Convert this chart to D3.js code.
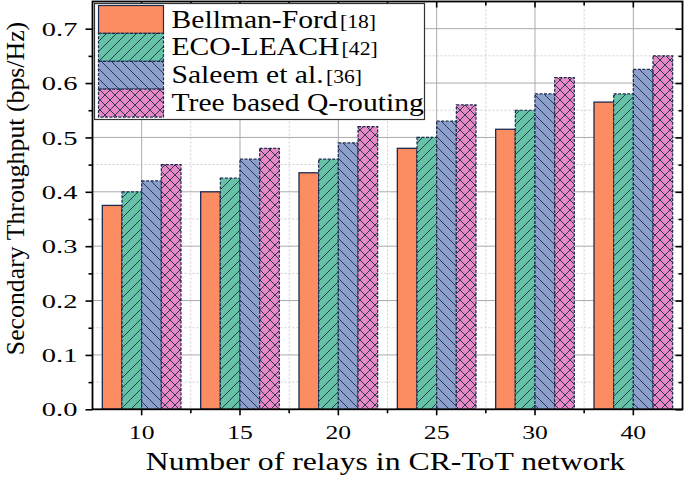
<!DOCTYPE html>
<html><head><meta charset="utf-8">
<script src="https://cdn.jsdelivr.net/npm/d3@7/dist/d3.min.js"></script>
<style>
html,body{margin:0;padding:0;background:#fff;}
svg{display:block;font-family:"Liberation Serif","Times New Roman",serif;}
svg text{font-family:"Liberation Serif","Times New Roman",serif !important;}
</style></head>
<body><svg id="chart" width="685" height="478"></svg>
<script>
const categories = ["10","15","20","25","30","40"];
const seriesNames = ["Bellman-Ford","ECO-LEACH","Saleem et al.","Tree based Q-routing"];
const seriesRefs = ["[18]","[42]","[36]",""];
const bellmanFord = [0.375,0.40,0.435,0.48,0.515,0.565];
const ecoLeach    = [0.40,0.425,0.46,0.50,0.55,0.58];
const saleem      = [0.42,0.46,0.49,0.53,0.58,0.625];
const treeQ       = [0.45,0.48,0.52,0.56,0.61,0.65];
const seriesValues = [bellmanFord, ecoLeach, saleem, treeQ];
const yTicks = [0.0,0.1,0.2,0.3,0.4,0.5,0.6,0.7];
const colors = ["#FC8D62","#66C2A5","#8DA0CB","#E78AC3"];
const edge = "#1c2b4f";

const svg = d3.select("#chart");
const L = 92.5, R = 682.5, T = 1.5, B = 409.3;

const x = d3.scaleBand().domain(categories).range([L, R]).padding(0);
const bw = x.bandwidth();
const xs = d3.scaleBand().domain(d3.range(4)).range([0.1*bw, 0.9*bw]).padding(0);
const y = d3.scaleLinear().domain([0, 0.75]).range([B, T]);

// patterns
const defs = svg.append("defs");
function hatch(id, color, kind, s){
  const p = defs.append("pattern").attr("id", id).attr("patternUnits","userSpaceOnUse")
    .attr("width", s).attr("height", s);
  p.append("rect").attr("width", s).attr("height", s).attr("fill", color);
  const lines = [];
  if (kind === "fwd" || kind === "cross") lines.push([0,s,s,0],[-1,1,1,-1],[s-1,s+1,s+1,s-1]);
  if (kind === "back" || kind === "cross") lines.push([0,0,s,s],[-1,s-1,1,s+1],[s-1,-1,s+1,1]);
  lines.forEach(l => p.append("line").attr("x1",l[0]).attr("y1",l[1]).attr("x2",l[2]).attr("y2",l[3])
    .attr("stroke", edge).attr("stroke-width", 0.9));
}
hatch("pG", colors[1], "fwd", 10);
hatch("pB", colors[2], "back", 10);
hatch("pP", colors[3], "cross", 10);
const fills = [colors[0], "url(#pG)", "url(#pB)", "url(#pP)"];

// minor grid
const yMinor = d3.range(0.05, 0.75, 0.1);
svg.append("g").selectAll("line").data(yMinor).join("line")
  .attr("x1", L).attr("x2", R).attr("y1", d => y(d)).attr("y2", d => y(d))
  .attr("stroke", "#cfcfcf").attr("stroke-width", 1).attr("stroke-dasharray", "2,2");
const bounds = categories.slice(1).map(c => x(c));
svg.append("g").selectAll("line").data(bounds).join("line")
  .attr("x1", d => d).attr("x2", d => d).attr("y1", T).attr("y2", B)
  .attr("stroke", "#cfcfcf").attr("stroke-width", 1).attr("stroke-dasharray", "2,2");
// major grid
svg.append("g").selectAll("line").data(yTicks.slice(1)).join("line")
  .attr("x1", L).attr("x2", R).attr("y1", d => y(d)).attr("y2", d => y(d))
  .attr("stroke", "#ababab").attr("stroke-width", 1);
svg.append("g").selectAll("line").data(categories).join("line")
  .attr("x1", d => x(d) + bw/2).attr("x2", d => x(d) + bw/2).attr("y1", T).attr("y2", B)
  .attr("stroke", "#ababab").attr("stroke-width", 1);

// bars
seriesValues.forEach((vals, si) => {
  svg.append("g").selectAll("rect").data(vals).join("rect")
    .attr("x", (d, i) => x(categories[i]) + xs(si))
    .attr("width", xs.bandwidth())
    .attr("y", d => y(d))
    .attr("height", d => B - y(d))
    .attr("fill", fills[si])
    .attr("stroke", edge).attr("stroke-width", si === 0 ? 1.3 : 1.2)
    .attr("stroke-dasharray", si === 0 ? null : "3,1.5");
});

// axes
const lw = 1.6;
const gy = svg.append("g").attr("transform", `translate(${L},0)`)
  .call(d3.axisLeft(y).tickValues(yTicks).tickFormat(d3.format(".1f")).tickSize(7));
gy.attr("font-family", null);
gy.selectAll("text").attr("font-size", 19).attr("fill", "#000")
  .attr("x", 0).attr("dy", "0.35em")
  .attr("transform", "translate(-15,0) scale(1.5,1)");
const gym = svg.append("g").attr("transform", `translate(${L},0)`)
  .call(d3.axisLeft(y).tickValues(yMinor).tickFormat("").tickSize(4));
const gr = svg.append("g").attr("transform", `translate(${R},0)`)
  .call(d3.axisRight(y).tickValues(yTicks).tickFormat("").tickSize(-7));
const grm = svg.append("g").attr("transform", `translate(${R},0)`)
  .call(d3.axisRight(y).tickValues(yMinor).tickFormat("").tickSize(-4));

const gx = svg.append("g").attr("transform", `translate(0,${B})`)
  .call(d3.axisBottom(x).tickSize(6));
gx.attr("font-family", null);
gx.selectAll("text").attr("font-size", 19).attr("fill", "#000")
  .attr("y", 0).attr("dy", 0)
  .attr("transform", "translate(0,29.5) scale(1.35,1)");
const gxm = svg.append("g").attr("transform", `translate(0,${B})`);
gxm.selectAll("line").data(bounds).join("line")
  .attr("x1", d => d).attr("x2", d => d).attr("y1", 0).attr("y2", 4)
  .attr("stroke", "#000").attr("stroke-width", lw);
// top ticks
const gt = svg.append("g").attr("transform", `translate(0,${T})`);
gt.selectAll("line.maj").data(categories).join("line").attr("class","maj")
  .attr("x1", d => x(d) + bw/2).attr("x2", d => x(d) + bw/2).attr("y1", 0).attr("y2", 6)
  .attr("stroke", "#000").attr("stroke-width", lw);
gt.selectAll("line.min").data(bounds).join("line").attr("class","min")
  .attr("x1", d => d).attr("x2", d => d).attr("y1", 0).attr("y2", 4)
  .attr("stroke", "#000").attr("stroke-width", lw);

[gy, gym, gr, grm, gx].forEach(g => {
  g.selectAll(".domain").remove();
  g.selectAll(".tick line").attr("stroke", "#000").attr("stroke-width", lw);
});
// frame
svg.append("rect").attr("x", L).attr("y", T).attr("width", R - L).attr("height", B - T)
  .attr("fill", "none").attr("stroke", "#000").attr("stroke-width", 1.8);

// axis titles
svg.append("text").attr("transform", `translate(${(L + R) / 2 - 2},470) scale(1.27,1)`)
  .attr("text-anchor", "middle")
  .attr("font-size", 25).attr("fill", "#000").text("Number of relays in CR-ToT network");
svg.append("text").attr("transform", `translate(23.5,188.5) rotate(-90)`)
  .attr("text-anchor", "middle").attr("font-size", 25.8).attr("fill", "#000")
  .text("Secondary Throughput (bps/Hz)");

// legend
const lg = svg.append("g");
lg.append("rect").attr("x", 94.5).attr("y", 3.5).attr("width", 330).attr("height", 116)
  .attr("fill", "#fff").attr("stroke", "#333").attr("stroke-width", 1.2);
const rowH = 27.9;
seriesNames.forEach((name, i) => {
  const ry = 5.5 + i * rowH;
  lg.append("rect").attr("x", 98.5).attr("y", ry).attr("width", 65).attr("height", rowH)
    .attr("fill", fills[i]).attr("stroke", edge).attr("stroke-width", 1.2)
    .attr("stroke-dasharray", i === 0 ? null : "3,1.5");
  const t = lg.append("text").attr("transform", `translate(171.5,${ry + 22}) scale(1.14,1)`)
    .attr("font-size", 26).attr("fill", "#000");
  t.append("tspan").text(name);
  if (seriesRefs[i]) t.append("tspan").attr("font-size", 19).attr("dx", 2).text(seriesRefs[i]);
});
</script></body></html>
